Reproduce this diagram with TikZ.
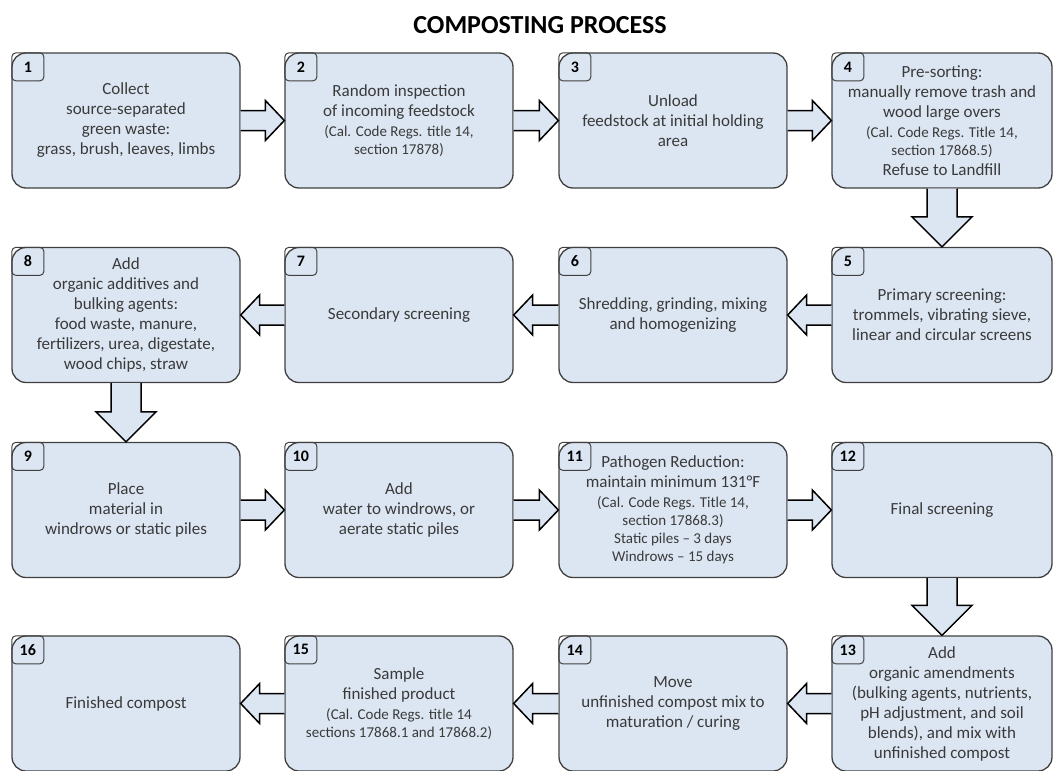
\documentclass[tikz,border=0pt]{standalone}
\usepackage{fontspec}
\setmainfont{Carlito}
\usetikzlibrary{calc}

\definecolor{boxfill}{HTML}{DCE6F2}
\definecolor{boxline}{HTML}{404040}
\definecolor{txtgray}{HTML}{3A3A3A}
\newcommand{\regs}{\fontsize{15}{18}\selectfont}

\tikzset{
  stepbox/.style={draw=boxline, line width=1.3pt, fill=boxfill, rounded corners=14pt,
    minimum width=228pt, minimum height=135pt, align=center, text=txtgray,
    font=\fontsize{17}{20}\selectfont, inner sep=2pt},
  numtag/.style={draw=boxline, line width=1pt, rounded corners=4pt, anchor=north west,
    minimum width=32pt, minimum height=28pt, inner sep=0pt,
    font=\bfseries\fontsize{16}{18}\selectfont},
  blockarrow/.style={draw=black, line width=1.5pt, fill=boxfill, line join=miter},
}

% block arrows between boxes
\newcommand{\arrowright}[2]{%
  \draw[blockarrow] let \p1=(#1.east), \p2=(#2.west) in
    (\x1,\y1+10pt) -- (\x2-19pt,\y1+10pt) -- (\x2-19pt,\y1+20pt) -- (\x2,\y1)
    -- (\x2-19pt,\y1-20pt) -- (\x2-19pt,\y1-10pt) -- (\x1,\y1-10pt);}
\newcommand{\arrowleft}[2]{%
  \draw[blockarrow] let \p1=(#1.west), \p2=(#2.east) in
    (\x1,\y1+10pt) -- (\x2+19pt,\y1+10pt) -- (\x2+19pt,\y1+20pt) -- (\x2,\y1)
    -- (\x2+19pt,\y1-20pt) -- (\x2+19pt,\y1-10pt) -- (\x1,\y1-10pt);}
\newcommand{\arrowdown}[2]{%
  \draw[blockarrow] let \p1=(#1.south), \p2=(#2.north) in
    (\x1-15pt,\y1) -- (\x1-15pt,\y2+30pt) -- (\x1-30pt,\y2+30pt) -- (\x1,\y2)
    -- (\x1+30pt,\y2+30pt) -- (\x1+15pt,\y2+30pt) -- (\x1+15pt,\y1);}

\begin{document}
\begin{tikzpicture}[x=1pt, y=1pt]
\useasboundingbox (0,0) rectangle (1053,-771);

\node[font=\bfseries\fontsize{26}{30}\selectfont] (title) at (540,-25) {COMPOSTING PROCESS};

% row 1
\node[stepbox] (s1) at (126,-120.5) {Collect\\source-separated\\green waste:\\grass, brush, leaves, limbs};
\node[stepbox] (s2) at (399,-120.5) {Random inspection\\of incoming feedstock\\{\regs (Cal. Code Regs. title 14,}\\[-2pt]{\regs section 17878)}};
\node[stepbox] (s3) at (673,-120.5) {Unload\\feedstock at initial holding\\area};
\node[stepbox, minimum width=220pt] (s4) at (942,-120.5) {Pre-sorting:\\manually remove trash and\\wood large overs\\{\regs (Cal. Code Regs. Title 14,}\\[-2pt]{\regs section 17868.5)}\\Refuse to Landfill};

% row 2
\node[stepbox, minimum width=220pt] (s5) at (942,-315) {Primary screening:\\trommels, vibrating sieve,\\linear and circular screens};
\node[stepbox] (s6) at (673,-315) {Shredding, grinding, mixing\\and homogenizing};
\node[stepbox] (s7) at (399,-315) {Secondary screening};
\node[stepbox] (s8) at (126,-315) {Add\\organic additives and\\bulking agents:\\food waste, manure,\\fertilizers, urea, digestate,\\wood chips, straw};

% row 3
\node[stepbox] (s9) at (126,-510) {Place\\material in\\windrows or static piles};
\node[stepbox] (s10) at (399,-510) {Add\\water to windrows, or\\aerate static piles};
\node[stepbox] (s11) at (673,-510) {Pathogen Reduction:\\maintain minimum 131°F\\{\regs (Cal. Code Regs. Title 14,}\\[-2pt]{\regs section 17868.3)}\\[-2pt]{\regs Static piles -- 3 days}\\[-2pt]{\regs Windrows -- 15 days}};
\node[stepbox, minimum width=220pt] (s12) at (942,-510) {Final screening};

% row 4
\node[stepbox, minimum width=220pt] (s13) at (942,-703.5) {Add\\organic amendments\\(bulking agents, nutrients,\\pH adjustment, and soil\\blends), and mix with\\unfinished compost};
\node[stepbox] (s14) at (673,-703.5) {Move\\unfinished compost mix to\\maturation / curing};
\node[stepbox] (s15) at (399,-703.5) {Sample\\finished product\\{\regs (Cal. Code Regs. title 14}\\[-2pt]{\regs sections 17868.1 and 17868.2)}};
\node[stepbox] (s16) at (126,-703.5) {Finished compost};

% number tags
\foreach \n in {1,...,16}
  \node[numtag] (t\n) at (s\n.north west) {\n};

% arrows
\arrowright{s1}{s2}
\arrowright{s2}{s3}
\arrowright{s3}{s4}
\arrowdown{s4}{s5}
\arrowleft{s5}{s6}
\arrowleft{s6}{s7}
\arrowleft{s7}{s8}
\arrowdown{s8}{s9}
\arrowright{s9}{s10}
\arrowright{s10}{s11}
\arrowright{s11}{s12}
\arrowdown{s12}{s13}
\arrowleft{s13}{s14}
\arrowleft{s14}{s15}
\arrowleft{s15}{s16}
\end{tikzpicture}
\end{document}
